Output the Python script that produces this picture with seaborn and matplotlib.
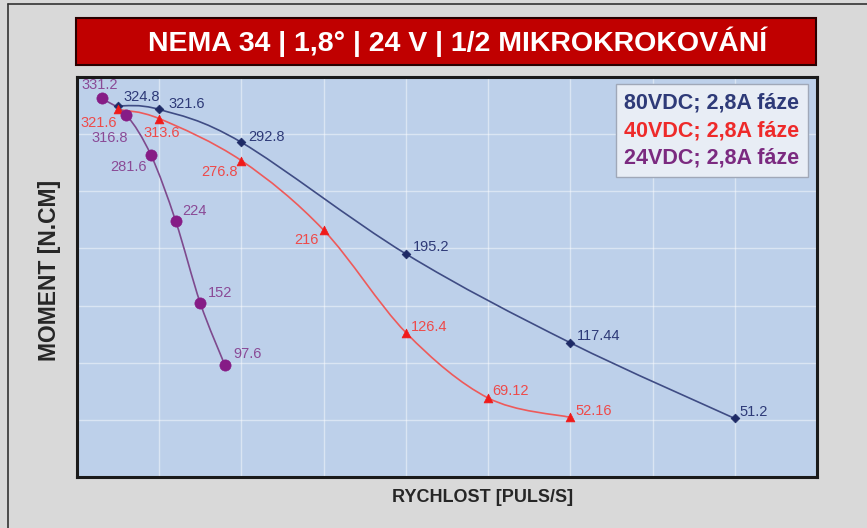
import numpy as np
import pandas as pd
import matplotlib
matplotlib.use('Agg')
import matplotlib.pyplot as plt
from matplotlib.path import Path
from matplotlib.patches import PathPatch, Rectangle
from matplotlib.lines import Line2D
import seaborn as sns

# ---- data (rychlost v jednotkach mrizky, moment N.cm) ----
rychlost_80 = [0.5, 1, 2, 4, 6, 8]
moment_80 = [324.8, 321.6, 292.8, 195.2, 117.44, 51.2]

rychlost_40 = [0.5, 1, 2, 3, 4, 5, 6]
moment_40 = [321.6, 313.6, 276.8, 216, 126.4, 69.12, 52.16]

rychlost_24 = [0.3, 0.6, 0.9, 1.2, 1.5, 1.8]
moment_24 = [331.2, 316.8, 281.6, 224, 152, 97.6]

nazvy = ['80VDC; 2,8A fáze', '40VDC; 2,8A fáze', '24VDC; 2,8A fáze']
titulek = 'NEMA 34 | 1,8° | 24 V | 1/2 MIKROKROKOVÁNÍ'

# posuny popisku v pixelech (dx, dy, zarovnani)
pos_80 = [(5, 9, 'left'), (9, 5, 'left'), (7, 5, 'left'), (7, 7, 'left'), (7, 7, 'left'), (5, 6, 'left')]
pos_40 = [(-1, -14, 'right'), (2, -14, 'center'), (-4, -11, 'right'), (-5, -10, 'right'),
          (5, 6, 'left'), (4, 7, 'left'), (5, 6, 'left')]
pos_24 = [(-2, 13, 'center'), (2, -23, 'right'), (-4, -12, 'right'), (7, 10, 'left'),
          (8, 10, 'left'), (8, 11, 'left')]


def hladka_cesta(x, y):
    # vyhlazena cara jako v Excelu (Bezier krivky pres body)
    pts = np.column_stack([x, y]).astype(float)
    n = len(pts)
    verts = [pts[0]]
    codes = [Path.MOVETO]
    for i in range(n - 1):
        p0 = pts[i - 1] if i > 0 else pts[i]
        p1 = pts[i]
        p2 = pts[i + 1]
        p3 = pts[i + 2] if i + 2 < n else pts[i + 1]
        verts += [p1 + (p2 - p0) / 6, p2 - (p3 - p1) / 6, p2]
        codes += [Path.CURVE4] * 3
    return Path(verts, codes)


sns.set_style('white')
plt.rcParams['font.family'] = ['Liberation Sans', 'DejaVu Sans']

fig = plt.figure(figsize=(8.67, 5.28), dpi=100, facecolor='#D9D9D9')
ax = fig.add_axes([77 / 867, 51 / 528, 740 / 867, 400 / 528])
ax.set_facecolor('#BDD0EA')

# vnejsi ramecek
fig.add_artist(Line2D([8 / 867, 8 / 867], [0, 1 - 4 / 528], color='#333333', lw=1.2))
fig.add_artist(Line2D([8 / 867, 1], [1 - 4 / 528, 1 - 4 / 528], color='#333333', lw=1.2))

# cerveny pruh s nadpisem
fig.add_artist(Rectangle((76 / 867, 1 - 65 / 528), 740 / 867, 47 / 528, transform=fig.transFigure,
                         facecolor='#C00000', edgecolor='#2a0000', lw=1.5))
fig.text(458 / 867, 1 - 42 / 528, titulek, color='white', fontsize=20.5, fontweight='bold',
         ha='center', va='center')

serie = [
    (rychlost_80, moment_80, pos_80, '#3F4C84', '#1E2A66', '#2E3A78', 'D', 20),
    (rychlost_40, moment_40, pos_40, '#EE5A5A', '#F01A1A', '#EE4A4A', '^', 40),
    (rychlost_24, moment_24, pos_24, '#7E4A8E', '#861C86', '#8A4A96', 'o', 65),
]

for x, y, pos, barva_cary, barva_bodu, barva_textu, znacka, vel in serie:
    ax.add_patch(PathPatch(hladka_cesta(x, y), facecolor='none', edgecolor=barva_cary, lw=1.2, zorder=2))
    df = pd.DataFrame({'x': x, 'y': y})
    sns.scatterplot(data=df, x='x', y='y', ax=ax, marker=znacka, s=vel, color=barva_bodu,
                    edgecolor=barva_bodu, linewidth=0.5, zorder=3)
    for xi, yi, (dx, dy, ha) in zip(x, y, pos):
        ax.annotate(f'{yi:g}', (xi, yi), xytext=(dx, dy), textcoords='offset pixels',
                    ha=ha, va='center', fontsize=10.5, color=barva_textu, zorder=4)

ax.set_xlim(0, 9)
ax.set_ylim(0, 350)
ax.set_xticks(np.arange(0, 10, 1))
ax.set_yticks(np.arange(0, 351, 50))
ax.grid(True, color='white', alpha=0.45, lw=1)
ax.tick_params(left=False, bottom=False, labelleft=False, labelbottom=False)
for s in ax.spines.values():
    s.set_color('#1a1a1a')
    s.set_linewidth(2.2)
ax.set_xlabel('')
ax.set_ylabel('')

# legenda
handles = [Line2D([], [], lw=0) for _ in nazvy]
leg = ax.legend(handles, nazvy, loc='upper right', bbox_to_anchor=(0.988, 0.9825), borderaxespad=0,
                handlelength=0, handletextpad=0, labelspacing=0.3, borderpad=0.4,
                frameon=True, fancybox=False,
                facecolor='#E8EDF5', edgecolor='#A0A8B8', framealpha=1,
                labelcolor=['#2E3A78', '#EE2A2A', '#7B2A80'],
                prop={'family': 'Liberation Sans', 'weight': 'bold', 'size': 15.5})
leg.get_frame().set_linewidth(1.0)

fig.text(483 / 867, 1 - 498 / 528, 'RYCHLOST [PULS/S]', ha='center', va='center', fontsize=13,
         fontweight='bold')
fig.text(50 / 867, 1 - 270 / 528, 'MOMENT [N.CM]', ha='center', va='center', rotation=90, fontsize=16.5,
         fontweight='bold')

plt.savefig('out.png', dpi=100, facecolor=fig.get_facecolor())
